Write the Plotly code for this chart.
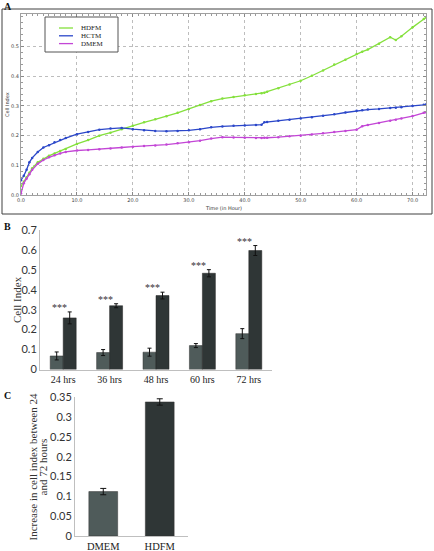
import plotly.graph_objects as go

W, H = 434, 551

# ---------------- Panel A data (real-time cell index) ----------------
time_h = [0, 0.5, 1, 1.5, 2, 3, 4, 5, 6, 7, 8, 10, 12, 14, 16, 18, 20, 22, 24, 26, 28, 30,
          32, 34, 36, 38, 40, 42, 43, 43.5, 44, 46, 48, 50, 52, 54, 56, 58, 60, 61, 62, 64,
          66, 67, 68, 70, 72, 72.4]
hdfm_ci = [0.03, 0.045, 0.06, 0.075, 0.09, 0.11, 0.122, 0.132, 0.14, 0.148, 0.155, 0.172, 0.185,
           0.2, 0.21, 0.222, 0.233, 0.245, 0.255, 0.265, 0.277, 0.29, 0.303, 0.316, 0.325, 0.33,
           0.336, 0.34, 0.343, 0.345, 0.348, 0.36, 0.372, 0.385, 0.402, 0.42, 0.44, 0.456, 0.475,
           0.483, 0.49, 0.51, 0.532, 0.522, 0.535, 0.565, 0.593, 0.598]
hctm_ci = [0.05, 0.065, 0.085, 0.11, 0.125, 0.145, 0.16, 0.168, 0.178, 0.185, 0.192, 0.205, 0.212,
           0.22, 0.224, 0.226, 0.222, 0.218, 0.216, 0.215, 0.216, 0.218, 0.222, 0.228, 0.231, 0.233,
           0.234, 0.236, 0.237, 0.245, 0.246, 0.25, 0.254, 0.258, 0.262, 0.267, 0.272, 0.278, 0.284,
           0.286, 0.288, 0.29, 0.293, 0.294, 0.296, 0.3, 0.304, 0.305]
dmem_ci = [0.005, 0.04, 0.055, 0.07, 0.085, 0.105, 0.118, 0.127, 0.134, 0.14, 0.145, 0.15, 0.152,
           0.154, 0.157, 0.16, 0.163, 0.165, 0.167, 0.17, 0.174, 0.178, 0.183, 0.19, 0.195, 0.194,
           0.193, 0.192, 0.192, 0.193, 0.193, 0.195, 0.198, 0.2, 0.204, 0.208, 0.212, 0.216, 0.22,
           0.232, 0.236, 0.243, 0.25, 0.254, 0.258, 0.266, 0.277, 0.279]
series_names = ["HDFM", "HCTM", "DMEM"]
series_colors = ["#84E03C", "#2B47C9", "#C346D6"]

# ---------------- Panel B data ----------------
b_categories = ["24 hrs", "36 hrs", "48 hrs", "60 hrs", "72 hrs"]
b_dmem = [0.068, 0.085, 0.087, 0.12, 0.18]
b_dmem_err = [0.02, 0.015, 0.02, 0.01, 0.025]
b_hdfm = [0.259, 0.32, 0.371, 0.483, 0.597]
b_hdfm_err = [0.03, 0.01, 0.017, 0.018, 0.025]
b_sig = ["***", "***", "***", "***", "***"]

# ---------------- Panel C data ----------------
c_categories = ["DMEM", "HDFM"]
c_values = [0.112, 0.338]
c_err = [0.008, 0.008]
c_sig = "***"
c_title_lines = ["Increase in cell index between 24", "and 72 hours"]

SERIF = "Liberation Serif"
SANS = "Lato"
LIGHT = "#4F5B5A"
DARK = "#2F3636"


def px_x(p):
    return p / W


def px_y(p):
    return 1 - p / H


fig = go.Figure()

# Panel A lines
for name, ys, col in zip(series_names, [hdfm_ci, hctm_ci, dmem_ci], series_colors):
    fig.add_trace(go.Scatter(x=time_h, y=ys, name=name, mode="lines+markers",
                             line=dict(color=col, width=1.3),
                             marker=dict(color=col, size=2.5),
                             xaxis="x", yaxis="y", showlegend=False))

# Panel B bars
fig.add_trace(go.Bar(x=b_categories, y=b_dmem, name="DMEM", marker=dict(color=LIGHT, line=dict(color="#333", width=0.5)),
                     error_y=dict(type="data", array=b_dmem_err, color="#111", thickness=1, width=2),
                     xaxis="x2", yaxis="y2", showlegend=False))
fig.add_trace(go.Bar(x=b_categories, y=b_hdfm, name="HDFM", marker=dict(color=DARK, line=dict(color="#222", width=0.5)),
                     error_y=dict(type="data", array=b_hdfm_err, color="#111", thickness=1, width=2),
                     xaxis="x2", yaxis="y2", showlegend=False))

# Panel C bars
fig.add_trace(go.Bar(x=c_categories, y=c_values, width=0.51,
                     marker=dict(color=[LIGHT, DARK], line=dict(color="#333", width=0.5)),
                     error_y=dict(type="data", array=c_err, color="#111", thickness=1, width=3),
                     xaxis="x3", yaxis="y3", showlegend=False))

annotations = []
# significance stars B
for cat, v, e, s in zip(b_categories, b_hdfm, b_hdfm_err, b_sig):
    annotations.append(dict(x=cat, y=v + e + 0.022, xref="x2", yref="y2", text=s, showarrow=False,
                            xshift=-4, yanchor="middle", font=dict(family=SERIF, size=10, color="#333")))
annotations.append(dict(x=0.34, y=0.358, xref="x3", yref="y3", text=c_sig, showarrow=False,
                        yanchor="middle", font=dict(family=SERIF, size=10, color="#333")))
# panel letters
for letter, x, y in [("A", 2, -1), ("B", 2, 219), ("C", 2, 388)]:
    annotations.append(dict(x=px_x(x), y=px_y(y), xref="paper", yref="paper", text="<b>%s</b>" % letter,
                            showarrow=False, xanchor="left", yanchor="top",
                            font=dict(family=SERIF, size=10, color="#111")))


def title_ann(text, x, y, size, family, angle=0):
    return dict(x=px_x(x), y=px_y(y), xref="paper", yref="paper", text=text, textangle=angle,
                xanchor="center", yanchor="middle", showarrow=False,
                font=dict(family=family, size=size, color="#333"))


# Axis titles
annotations.append(title_ann("Cell Index", 7, 105, 5, "DejaVu Sans", -90))
annotations.append(title_ann("Time (in Hour)", 223, 208, 5, "DejaVu Sans"))
annotations.append(title_ann("Cell Index", 17, 300, 11, SERIF, -90))
annotations.append(title_ann(c_title_lines[0], 32.5, 467, 11, SERIF, -90))
annotations.append(title_ann(c_title_lines[1], 42.5, 467, 11, SERIF, -90))

shapes = [dict(type="rect", xref="paper", yref="paper", x0=px_x(2), x1=px_x(432), y0=px_y(214), y1=px_y(9),
               line=dict(color="#404040", width=1), fillcolor="rgba(0,0,0,0)", layer="below")]

# Panel A legend (box, samples, labels)
shapes.append(dict(type="rect", xref="paper", yref="paper", x0=px_x(45), x1=px_x(118), y0=px_y(52), y1=px_y(17),
                   line=dict(color="#555", width=1), fillcolor="white", layer="above"))
for i, (name, col) in enumerate(zip(series_names, series_colors)):
    yy = 28 + i * 7.8
    shapes.append(dict(type="line", xref="paper", yref="paper", x0=px_x(59), x1=px_x(73), y0=px_y(yy), y1=px_y(yy),
                       line=dict(color=col, width=1.3), layer="above"))
    annotations.append(dict(x=px_x(79), y=px_y(yy), xref="paper", yref="paper", text=name, showarrow=False,
                            xanchor="left", yanchor="middle", font=dict(family=SERIF, size=7, color="#222")))

tickA = dict(family="DejaVu Sans", size=5, color="#444")

fig.update_layout(
    width=W, height=H, margin=dict(l=0, r=0, t=0, b=0, autoexpand=False),
    paper_bgcolor="white", plot_bgcolor="white",
    barmode="group", bargap=0.44, bargroupgap=0,
    showlegend=False,
    xaxis=dict(domain=[px_x(21), px_x(426)], range=[0, 72.4], dtick=10, tick0=0, tickformat=".1f",
               showgrid=True, gridcolor="#BDBDBD", griddash="dot", gridwidth=1,
               showline=True, linecolor="#A0A0A0", mirror="ticks", ticks="inside", ticklen=3,
               tickcolor="#888", tickfont=tickA, zeroline=False, automargin=False,
               minor=dict(dtick=1, ticks="inside", ticklen=2, tickcolor="#999", showgrid=False),
               anchor="y"),
    yaxis=dict(domain=[px_y(195), px_y(14)], range=[0, 0.61], tickvals=[0, 0.1, 0.2, 0.3, 0.4, 0.5],
               tickformat=".1f", showgrid=True, gridcolor="#BDBDBD", griddash="dot", gridwidth=1,
               showline=True, linecolor="#A0A0A0", mirror="ticks", ticks="inside", ticklen=3,
               tickcolor="#888", tickfont=tickA, zeroline=False, automargin=False,
               minor=dict(dtick=0.02, ticks="inside", ticklen=2, tickcolor="#999", showgrid=False),
               anchor="x"),
    xaxis2=dict(domain=[px_x(40), px_x(272)], showline=True, linecolor="#BFBFBF", ticks="",
                tickfont=dict(family=SERIF, size=10, color="#222"), anchor="y2", showgrid=False,
                automargin=False),
    yaxis2=dict(domain=[px_y(369.5), px_y(230)], range=[0, 0.7], dtick=0.1, showline=True,
                linecolor="#BFBFBF", showgrid=False, zeroline=False, ticks="",
                tickfont=dict(family=SANS, size=11, color="#333"), anchor="x2", automargin=False),
    xaxis3=dict(domain=[px_x(75), px_x(188)], showline=True, linecolor="#BFBFBF", ticks="",
                tickfont=dict(family=SERIF, size=10.5, color="#222"), anchor="y3", showgrid=False,
                automargin=False),
    yaxis3=dict(domain=[px_y(536), px_y(397.2)], range=[0, 0.35], dtick=0.05, showline=True,
                linecolor="#BFBFBF", showgrid=False, zeroline=False, ticks="",
                tickfont=dict(family=SANS, size=11, color="#333"), anchor="x3", automargin=False),
    annotations=annotations, shapes=shapes,
)

fig.write_html("out.html", config={"displayModeBar": False},
               post_script="document.body.style.margin='0';document.body.style.overflow='hidden';")
